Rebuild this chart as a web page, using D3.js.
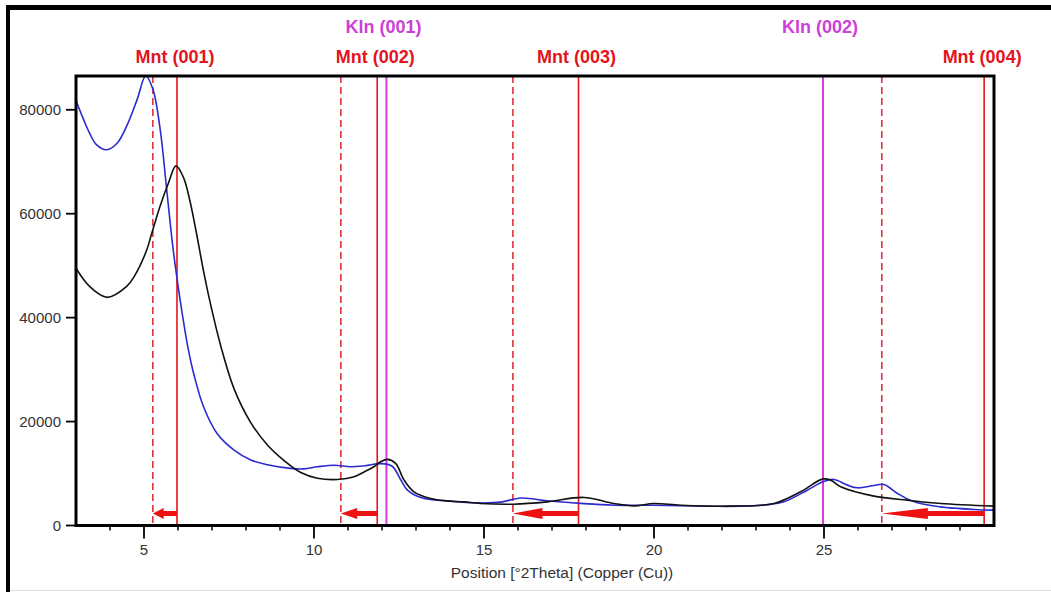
<!DOCTYPE html>
<html><head><meta charset="utf-8">
<script src="https://cdn.jsdelivr.net/npm/d3@7"></script>
<style>body{margin:0;background:#fff;overflow:hidden}text{font-family:"Liberation Sans",Arial,sans-serif}</style>
</head><body><svg id="c" width="1051" height="592"></svg>
<script>
// ---- data ----
const blueX = [3.0,3.2,3.4,3.6,3.9,4.2,4.5,4.8,5.05,5.26,5.47,5.67,5.86,6.06,6.18,6.3,6.47,6.76,7.16,7.65,8.14,8.63,9.31,9.7,10.1,10.59,11.08,11.5,11.96,12.3,12.55,12.75,13.14,13.92,14.8,15.5,16.08,16.86,17.84,18.82,20.0,21.76,22.55,23.3,23.82,24.51,24.97,25.29,25.69,25.98,26.47,26.76,27.16,27.65,28.43,29.41,30.0];
const blueY = [81800,78500,75500,73300,72300,73500,77000,82000,86500,84000,76500,64500,53000,43500,38500,34000,29000,22700,17600,14500,12600,11700,11000,10900,11300,11600,11300,11500,11900,11400,8800,6800,5400,4700,4350,4500,5300,4750,4250,3900,3900,3700,3720,4000,4550,6800,8400,8860,7770,7250,7700,7900,6170,4550,3580,3080,2950];
const blackX = [3.0,3.4,3.92,4.49,4.71,5.08,5.2,5.47,5.72,5.94,6.16,6.35,6.55,6.75,6.96,7.26,7.65,8.14,8.63,9.12,9.61,10.1,10.69,11.18,11.47,11.76,11.96,12.16,12.4,12.65,12.94,13.43,13.92,14.41,14.9,15.88,16.86,17.94,18.82,19.41,20.0,20.79,22.25,23.53,24.31,24.95,25.2,25.49,26.47,27.45,28.43,30.0];
const blackY = [49500,46000,43900,46000,47900,53000,55600,61400,65900,69200,67000,62500,56000,49000,42500,34500,26300,19800,15500,12500,10200,9100,8860,9370,10300,11300,12260,12720,11950,8730,6480,5200,4740,4550,4240,4100,4550,5400,4240,3780,4240,3910,3720,4240,6480,8920,8730,7440,5650,4880,4240,3720];

const mntLabels = ["Mnt (001)","Mnt (002)","Mnt (003)","Mnt (004)"];
const mntRef = [5.97,11.86,17.78,29.71];      // solid reference positions
const mntShift = [5.26,10.79,15.85,26.70];    // dashed shifted positions
const klnLabels = ["Kln (001)","Kln (002)"];
const klnRef = [12.13,24.97];

const xTicks = [5,10,15,20,25];
const xMinorTicks = [4,6,7,8,9,11,12,13,14,16,17,18,19,21,22,23,24,26,27,28,29];
const yTicks = [0,20000,40000,60000,80000];
const xTitle = "Position [°2Theta] (Copper (Cu))";

// ---- layout ----
const L = 76, R = 994, T = 76, B = 525.5;
const svg = d3.select("#c");
const x = d3.scaleLinear().domain([3,30]).range([L,R]);
const y = d3.scaleLinear().domain([0,86500]).range([B,T]);

// outer picture border
svg.append("rect").attr("x",6).attr("y",5).attr("width",1045).attr("height",5).attr("fill","#000");
svg.append("rect").attr("x",6).attr("y",5).attr("width",4).attr("height",587).attr("fill","#000");
svg.append("line").attr("x1",10).attr("x2",1051).attr("y1",590.5).attr("y2",590.5).attr("stroke","#ddd").attr("stroke-width",1);

svg.append("clipPath").attr("id","clip").append("rect").attr("x",L).attr("y",T).attr("width",R-L).attr("height",B-T);
const g = svg.append("g").attr("clip-path","url(#clip)");

const red = "#e3141b", mag = "#d83be0";

// reference lines
mntRef.forEach(v=>{
  g.append("line").attr("x1",x(v)).attr("x2",x(v)).attr("y1",T).attr("y2",B).attr("stroke",red).attr("stroke-width",1.6);
});
mntShift.forEach(v=>{
  g.append("line").attr("x1",x(v)).attr("x2",x(v)).attr("y1",T).attr("y2",B).attr("stroke","#e0303a").attr("stroke-width",1.6).attr("stroke-dasharray","7,4");
});
klnRef.forEach(v=>{
  g.append("line").attr("x1",x(v)).attr("x2",x(v)).attr("y1",T).attr("y2",B).attr("stroke",mag).attr("stroke-width",2);
});

// curves
const line = d3.line().x(d=>x(d[0])).y(d=>y(d[1])).curve(d3.curveCatmullRom.alpha(0.5));
g.append("path").attr("d",line(blueX.map((v,i)=>[v,blueY[i]]))).attr("fill","none").attr("stroke","#2b2bd0").attr("stroke-width",1.6);
g.append("path").attr("d",line(blackX.map((v,i)=>[v,blackY[i]]))).attr("fill","none").attr("stroke","#111").attr("stroke-width",1.6);

// arrows from reference to shifted position
const ay = B - 12;
mntRef.forEach((v,i)=>{
  const x1 = x(v), x0 = x(mntShift[i]);
  const len = x1 - x0, head = len*0.45;
  const hb = x0 + head;
  const pts = [[x1,ay-2.5],[hb,ay-2.5],[hb,ay-5.5],[x0,ay],[hb,ay+5.5],[hb,ay+2.5],[x1,ay+2.5]];
  g.append("polygon").attr("points",pts.map(p=>p.join(",")).join(" ")).attr("fill","#ee1111");
});

// frame
svg.append("rect").attr("x",L).attr("y",T).attr("width",R-L).attr("height",B-T).attr("fill","none").attr("stroke","#000").attr("stroke-width",3);

// axes ticks
const ax = svg.append("g");
xTicks.forEach(v=>{
  ax.append("line").attr("x1",x(v)).attr("x2",x(v)).attr("y1",B).attr("y2",B+13).attr("stroke","#000").attr("stroke-width",1.8);
  ax.append("text").attr("x",x(v)).attr("y",B+29).attr("text-anchor","middle").attr("font-size",15).attr("fill","#333").text(v);
});
xMinorTicks.forEach(v=>{
  ax.append("line").attr("x1",x(v)).attr("x2",x(v)).attr("y1",B).attr("y2",B+5).attr("stroke","#000").attr("stroke-width",1.5);
});
yTicks.forEach(v=>{
  ax.append("line").attr("x1",L-10).attr("x2",L).attr("y1",y(v)).attr("y2",y(v)).attr("stroke","#000").attr("stroke-width",1.8);
  ax.append("text").attr("x",L-15).attr("y",y(v)+5).attr("text-anchor","end").attr("font-size",15).attr("fill","#333").text(v);
});
svg.append("text").attr("x",562).attr("y",578).attr("text-anchor","middle").attr("font-size",15.5).attr("fill","#333").text(xTitle);

// peak labels
mntRef.forEach((v,i)=>{
  svg.append("text").attr("x",x(v)-2).attr("y",63).attr("text-anchor","middle").attr("font-size",18).attr("font-weight","bold").attr("fill",red).text(mntLabels[i]);
});
klnRef.forEach((v,i)=>{
  svg.append("text").attr("x",x(v)-3).attr("y",33).attr("text-anchor","middle").attr("font-size",18).attr("font-weight","bold").attr("fill","#cc3fd8").text(klnLabels[i]);
});
</script></body></html>
